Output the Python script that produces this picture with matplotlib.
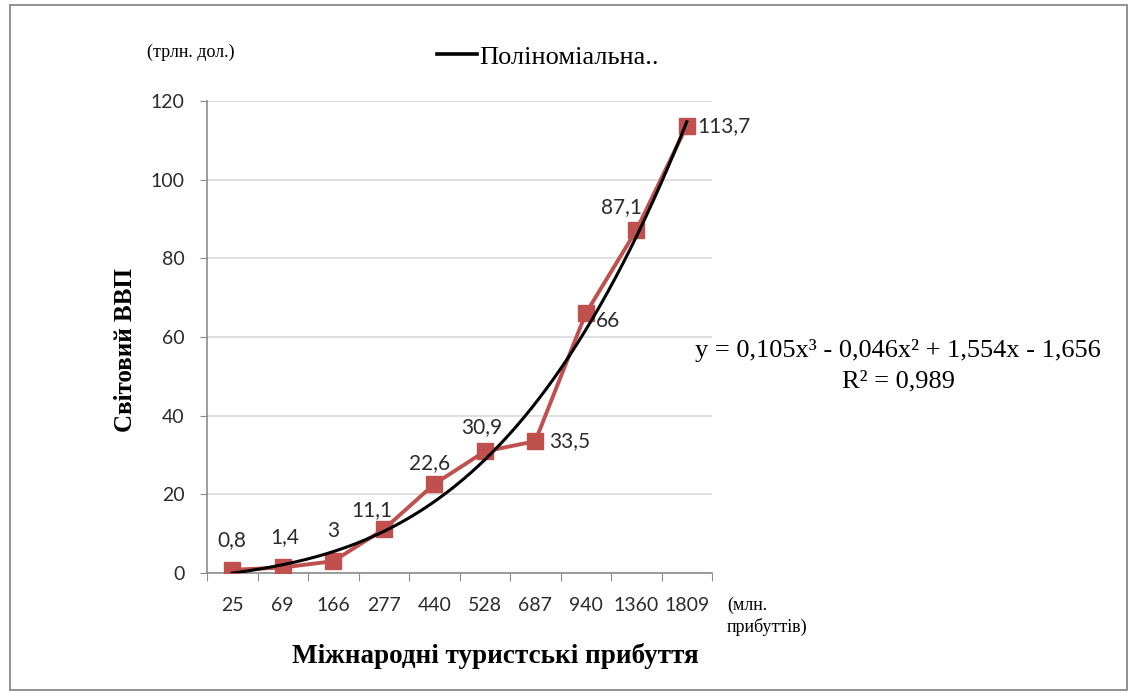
import numpy as np
import matplotlib
matplotlib.use("Agg")
import matplotlib.pyplot as plt
from matplotlib.lines import Line2D
from matplotlib.patches import Rectangle

categories = ["25", "69", "166", "277", "440", "528", "687", "940", "1360", "1809"]
gdp = [0.8, 1.4, 3, 11.1, 22.6, 30.9, 33.5, 66, 87.1, 113.7]
labels = ["0,8", "1,4", "3", "11,1", "22,6", "30,9", "33,5", "66", "87,1", "113,7"]
y_ticks = [0, 20, 40, 60, 80, 100, 120]

# label placement (pixels: dx, dy upward, horizontal alignment)
label_offsets = [(0, 30, "center"), (2, 30, "center"), (0, 30, "center"),
                 (-12, 19, "center"), (-5, 21, "center"), (-3, 24, "center"),
                 (14, 0, "left"), (10, -8, "left"), (-15, 23, "center"),
                 (11, 0, "left")]

W, H = 1129, 693
fig = plt.figure(figsize=(W / 100, H / 100), dpi=100)
fig.patch.set_facecolor("white")
PT = 72 / 100  # points per pixel


def fx(px):
    return px / W


def fy(py):
    return 1 - py / H


# outer frame
fig.patches.append(Rectangle((fx(10), fy(690)), fx(1117), (690 - 5) / H,
                             transform=fig.transFigure, fill=False,
                             edgecolor="#7f7f7f", lw=1.2))

ax = fig.add_axes([fx(207), fy(573), fx(712 - 207), (573 - 101) / H])
x = np.arange(1, len(categories) + 1)

ax.set_xlim(0.5, len(categories) + 0.5)
ax.set_ylim(0, 120)

for s in ["top", "right"]:
    ax.spines[s].set_visible(False)
for s in ["left", "bottom"]:
    ax.spines[s].set_color("#8c8c8c")
    ax.spines[s].set_linewidth(1.2)

ax.set_yticks(y_ticks)
ax.yaxis.grid(True, color="#d9d9d9", lw=1.2)
ax.set_axisbelow(True)
ax.tick_params(axis="y", length=5, color="#8c8c8c", pad=11, labelsize=14,
               labelcolor="#2b2b2b")
for t in ax.get_yticklabels():
    t.set_fontfamily("Lato")

ax.set_xticks(np.arange(0.5, len(categories) + 1, 1))
ax.set_xticklabels([])
ax.tick_params(axis="x", which="major", length=6, color="#8c8c8c")
ax.set_xticks(x, minor=True)
ax.set_xticklabels(categories, minor=True, fontfamily="Lato", fontsize=14,
                   color="#2b2b2b")
ax.tick_params(axis="x", which="minor", length=0, pad=17)

# series
ax.plot(x, gdp, color="#c0504d", lw=2.8, marker="s", markersize=12,
        markerfacecolor="#c0504d", markeredgecolor="#c0504d", zorder=3)

# polynomial trendline (degree 3) fitted to the data
coef = np.polyfit(x, gdp, 3)
xs = np.linspace(1, len(categories), 300)
ax.plot(xs, np.polyval(coef, xs), color="black", lw=2.2, zorder=4)

for xi, yi, lab, (dx, dy, ha) in zip(x, gdp, labels, label_offsets):
    ax.annotate(lab, (xi, yi), xytext=(dx * PT, dy * PT),
                textcoords="offset points", ha=ha, va="center", fontsize=15,
                fontfamily="Lato", color="#2b2b2b", zorder=5)

serif = "Liberation Serif"
fig.text(fx(125), fy(350), "Світовий ВВП", rotation=90, ha="center", va="center",
         fontsize=18, fontweight="bold", fontfamily=serif)
fig.text(fx(495), fy(656), "Міжнародні туристські прибуття", ha="center",
         va="center", fontsize=19.5, fontweight="bold", fontfamily=serif)
fig.text(fx(191), fy(52), "(трлн. дол.)", ha="center", va="center",
         fontsize=13, fontfamily=serif)
fig.text(fx(727), fy(616), "(млн.\nприбуттів)", ha="left", va="center",
         fontsize=13, fontfamily=serif, linespacing=1.3)
fig.text(fx(898), fy(350), "y = 0,105x³ - 0,046x² + 1,554x - 1,656",
         ha="center", va="center", fontsize=19, fontfamily=serif)
fig.text(fx(898), fy(381), "R² = 0,989", ha="center", va="center",
         fontsize=19, fontfamily=serif)

# legend (trendline only)
fig.legend(handles=[Line2D([], [], color="black", lw=2.6)],
           labels=["Поліноміальна.."], loc="center",
           bbox_to_anchor=(fx(548), fy(57)), frameon=False,
           prop={"family": serif, "size": 19}, handlelength=1.5,
           handletextpad=0.1)

fig.savefig("out.png", dpi=100)
